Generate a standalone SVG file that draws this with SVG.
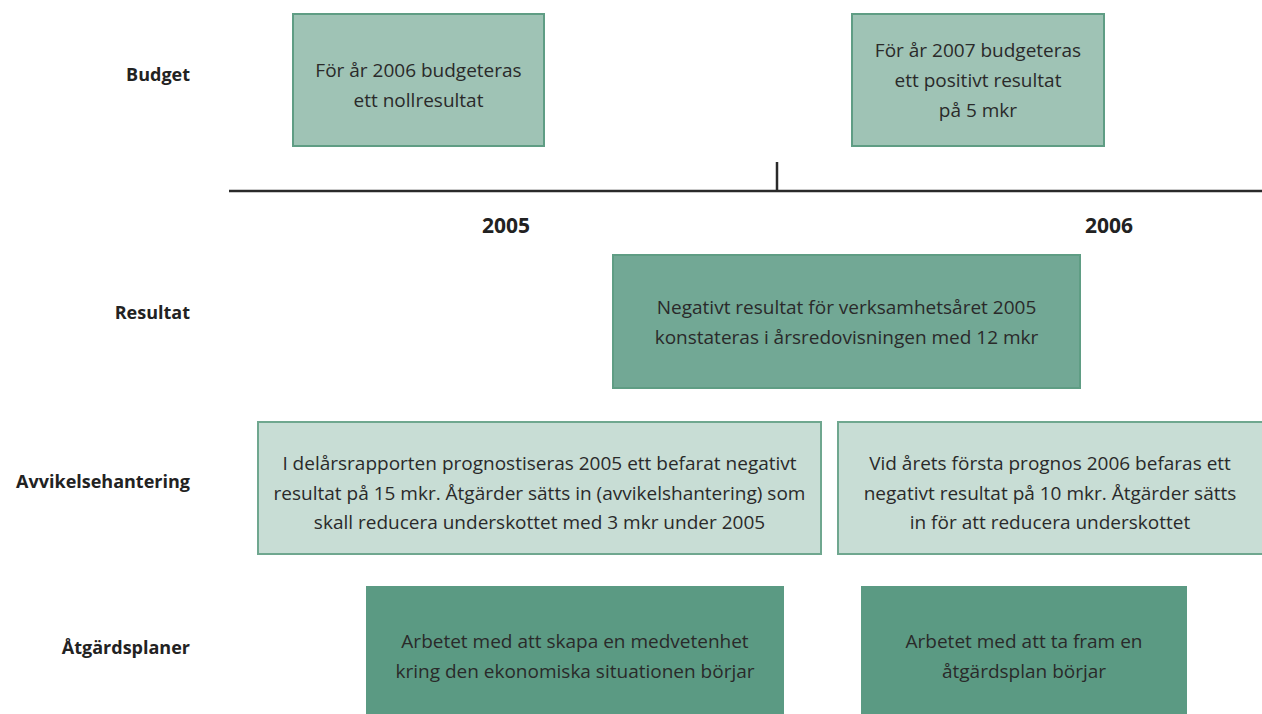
<svg xmlns="http://www.w3.org/2000/svg" width="1262" height="714" viewBox="0 0 1262 714">
<style>
.lbl{font-family:"Open Sans","Lato",sans-serif;font-weight:bold;font-size:18px;fill:#222;text-anchor:end}
.yr{font-family:"Open Sans","Lato",sans-serif;font-weight:bold;font-size:21px;fill:#222;text-anchor:middle}
.t{font-family:"Open Sans","Lato",sans-serif;font-size:19px;fill:#2a2a2a;text-anchor:middle}
.b1{fill:#9fc3b5;stroke:#5f9d84;stroke-width:2}
.b2{fill:#72a895;stroke:#5f9d84;stroke-width:2}
.b3{fill:#c8ddd5;stroke:#6fa78f;stroke-width:2}
.b4{fill:#5b9a83;stroke:#5b9a83;stroke-width:2}
</style>
<rect width="1262" height="714" fill="#fff"/>
<g id="labels">
<text class="lbl" x="190" y="81">Budget</text>
<text class="lbl" x="190" y="319">Resultat</text>
<text class="lbl" x="190" y="488">Avvikelsehantering</text>
<text class="lbl" x="190" y="654">Åtgärdsplaner</text>
</g>
<g id="connectors">
<line x1="229" y1="191" x2="1262" y2="191" stroke="#2a2a2a" stroke-width="2.5"/>
<line x1="777" y1="162" x2="777" y2="191" stroke="#2a2a2a" stroke-width="2.5"/>
</g>
<g id="years">
<text class="yr" x="506" y="233">2005</text>
<text class="yr" x="1109" y="233">2006</text>
</g>
<g id="budget2006">
<rect class="b1" x="293" y="14" width="251" height="132"/>
<text class="t" x="418.5" y="77">För år 2006 budgeteras</text>
<text class="t" x="418.5" y="107">ett nollresultat</text>
</g>
<g id="budget2007">
<rect class="b1" x="852" y="14" width="252" height="132"/>
<text class="t" x="978" y="57">För år 2007 budgeteras</text>
<text class="t" x="978" y="87">ett positivt resultat</text>
<text class="t" x="978" y="117">på 5 mkr</text>
</g>
<g id="resultat">
<rect class="b2" x="613" y="255" width="467" height="133"/>
<text class="t" x="846.5" y="314">Negativt resultat för verksamhetsåret 2005</text>
<text class="t" x="846.5" y="344">konstateras i årsredovisningen med 12 mkr</text>
</g>
<g id="avvikelse2005">
<rect class="b3" x="258" y="422" width="563" height="132"/>
<text class="t" x="539.5" y="470">I delårsrapporten prognostiseras 2005 ett befarat negativt</text>
<text class="t" x="539.5" y="500">resultat på 15 mkr. Åtgärder sätts in (avvikelshantering) som</text>
<text class="t" x="539.5" y="529">skall reducera underskottet med 3 mkr under 2005</text>
</g>
<g id="avvikelse2006">
<rect class="b3" x="838" y="422" width="426" height="132"/>
<text class="t" x="1050" y="470">Vid årets första prognos 2006 befaras ett</text>
<text class="t" x="1050" y="500">negativt resultat på 10 mkr. Åtgärder sätts</text>
<text class="t" x="1050" y="529">in för att reducera underskottet</text>
</g>
<g id="atgard2005">
<rect class="b4" x="367" y="587" width="416" height="130"/>
<text class="t" x="575" y="648">Arbetet med att skapa en medvetenhet</text>
<text class="t" x="575" y="678">kring den ekonomiska situationen börjar</text>
</g>
<g id="atgard2006">
<rect class="b4" x="862" y="587" width="324" height="130"/>
<text class="t" x="1024" y="648">Arbetet med att ta fram en</text>
<text class="t" x="1024" y="678">åtgärdsplan börjar</text>
</g>
</svg>
